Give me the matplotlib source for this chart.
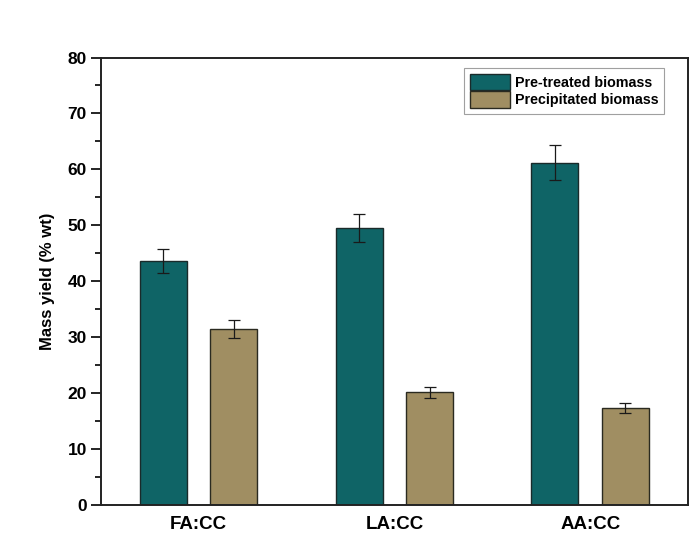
import numpy as np
import matplotlib
matplotlib.use("Agg")
import matplotlib.pyplot as plt
from matplotlib.ticker import MultipleLocator

plt.rcParams['font.family'] = ['Liberation Sans', 'DejaVu Sans']

# data
categories = ['FA:CC', 'LA:CC', 'AA:CC']
pretreated = [43.6, 49.5, 61.2]
pretreated_err = [2.2, 2.5, 3.1]
precipitated = [31.4, 20.1, 17.4]
precipitated_err = [1.6, 1.0, 0.9]
series_labels = ['Pre-treated biomass', 'Precipitated biomass']

teal = '#0f6466'
tan = '#a08e62'

fig = plt.figure(figsize=(7, 5.4), dpi=100)
ax = fig.add_axes([0.144, 0.065, 0.839, 0.8285])

x = np.arange(len(categories))
w = 0.24
off = 0.18
err_kw = dict(ecolor='#1a1a1a', elinewidth=0.9, capsize=4.5, capthick=0.9)

ax.bar(x - off, pretreated, w, yerr=pretreated_err, color=teal, edgecolor='#1a2a2a',
       linewidth=1.0, label=series_labels[0], error_kw=err_kw)
ax.bar(x + off, precipitated, w, yerr=precipitated_err, color=tan, edgecolor='#2a2a20',
       linewidth=1.0, label=series_labels[1], error_kw=err_kw)

ax.set_xlim(-0.5, 2.5)
ax.set_ylim(0, 80)
ax.yaxis.set_major_locator(MultipleLocator(10))
ax.yaxis.set_minor_locator(MultipleLocator(5))
ax.set_xticks(x)
ax.set_xticklabels(categories, fontsize=13.5, fontweight='bold')
ax.tick_params(axis='x', length=0, pad=8)
ax.tick_params(axis='y', which='major', direction='out', length=7, width=1.2, labelsize=12.5, pad=3)
ax.tick_params(axis='y', which='minor', direction='out', length=4, width=1.2)
for lab in ax.get_yticklabels():
    lab.set_fontweight('bold')

for s in ax.spines.values():
    s.set_linewidth(1.4)
    s.set_color('#222222')

ax.set_ylabel('Mass yield (% wt)', fontsize=12, fontweight='bold', labelpad=9)

leg = ax.legend(loc='upper right', bbox_to_anchor=(0.959, 0.977),
                prop={'weight': 'bold', 'size': 10.3}, frameon=True, fancybox=False,
                handlelength=2.8, handleheight=1.4, handletextpad=0.35,
                borderpad=0.4, labelspacing=0.1, borderaxespad=0)
leg.get_frame().set_edgecolor('#888888')
leg.get_frame().set_linewidth(0.8)

fig.savefig('out.png', dpi=100)
